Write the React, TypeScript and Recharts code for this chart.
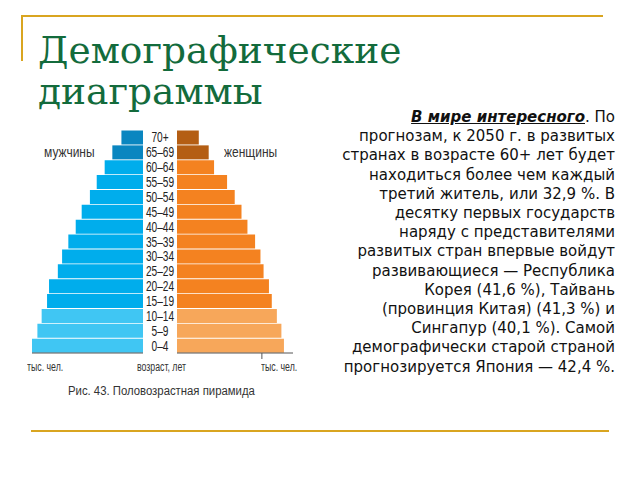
import React from "react";
import { BarChart, Bar, XAxis, YAxis, Cell } from "recharts";

// age groups, oldest on top
const ageGroups = [
  "70+", "65–69", "60–64", "55–59", "50–54", "45–49", "40–44", "35–39",
  "30–34", "25–29", "20–24", "15–19", "10–14", "5–9", "0–4",
];
// тыс. чел.
const male = [76, 108, 135, 163, 187, 216, 237, 263, 285, 300, 331, 338, 357, 372, 391];
const female = [77, 112, 131, 177, 204, 228, 249, 276, 295, 306, 325, 335, 353, 369, 378];
const femaleTicks = [200, 300];

const data = ageGroups.map((age, i) => ({ age, male: male[i], female: female[i] }));

const maleColor = (i: number) => (i < 2 ? "#0a86c0" : i < 12 ? "#00adec" : "#40c6f3");
const femaleColor = (i: number) => (i < 2 ? "#b45e14" : i < 12 ? "#f48220" : "#f7a75a");

const sans = "'Liberation Sans', Arial, sans-serif";
const gold = "#d9a520";

// condensed look: squeeze the glyphs horizontally
const AgeTick = (props: any) => (
  <text
    transform={`translate(17,${props.y}) scale(0.7,1)`}
    dy={5}
    textAnchor="middle"
    fontSize={14.5}
    fontFamily={sans}
    fill="#222"
  >
    {props.payload.value}
  </text>
);

const label = (text: string, left: number, top: number, size: number, sx: number) => (
  <div
    style={{
      position: "absolute", left, top, fontFamily: sans, fontSize: size, color: "#333",
      whiteSpace: "nowrap", transform: `scaleX(${sx})`, transformOrigin: "0 0",
    }}
  >
    {text}
  </div>
);

export default function App() {
  return (
    <div style={{ position: "fixed", left: 0, top: 0, width: 640, height: 480, background: "#fff", overflow: "hidden" }}>
      {/* slide frame */}
      <div style={{ position: "absolute", left: 22, top: 15, width: 581, height: 2, background: gold }} />
      <div style={{ position: "absolute", left: 21, top: 15, width: 2, height: 46, background: gold }} />
      <div style={{ position: "absolute", left: 31, top: 430, width: 578, height: 2, background: gold }} />

      <div
        style={{
          position: "absolute", left: 38, top: 30, fontFamily: "'DejaVu Serif', serif",
          fontSize: 37.5, lineHeight: "40.5px", color: "#136b3c", whiteSpace: "nowrap",
        }}
      >
        Демографические<br />диаграммы
      </div>

      {/* male side */}
      <div style={{ position: "absolute", left: 32, top: 130 }}>
        <BarChart layout="vertical" width={111} height={233} data={data} margin={{ top: 0, right: 0, bottom: 0, left: 0 }} barCategoryGap={0.5}>
          <XAxis type="number" domain={[0, 391]} reversed height={10} tick={false} tickLine={false} axisLine={{ stroke: "#555" }} />
          <YAxis type="category" dataKey="age" hide />
          <Bar dataKey="male" isAnimationActive={false}>
            {data.map((d, i) => <Cell key={d.age} fill={maleColor(i)} />)}
          </Bar>
        </BarChart>
      </div>

      {/* female side with the age labels */}
      <div style={{ position: "absolute", left: 143, top: 130 }}>
        <BarChart layout="vertical" width={150} height={233} data={data} margin={{ top: 0, right: 0, bottom: 0, left: 0 }} barCategoryGap={0.5}>
          <XAxis
            type="number" domain={[0, 410]} ticks={femaleTicks} height={10} tickSize={6}
            tick={() => <g />} tickLine={{ stroke: "#555" }} axisLine={{ stroke: "#555" }}
          />
          <YAxis type="category" dataKey="age" width={34} axisLine={false} tickLine={false} tick={<AgeTick />} interval={0} />
          <Bar dataKey="female" isAnimationActive={false}>
            {data.map((d, i) => <Cell key={d.age} fill={femaleColor(i)} />)}
          </Bar>
        </BarChart>
      </div>

      {label("мужчины", 44, 143, 15, 0.8)}
      {label("женщины", 224, 143, 15, 0.8)}
      {label("тыс. чел.", 27, 360, 12.5, 0.7)}
      {label("возраст, лет", 137, 360, 12.5, 0.7)}
      {label("тыс. чел.", 261, 360, 12.5, 0.7)}
      {label("Рис. 43. Половозрастная пирамида", 68, 384, 12, 0.945)}

      {/* side note */}
      <div
        style={{
          position: "absolute", right: 25, top: 108, textAlign: "right", fontFamily: "'DejaVu Sans', sans-serif",
          fontSize: 15, lineHeight: "19.2px", color: "#111", whiteSpace: "nowrap",
        }}
      >
        <b><i><u>В мире интересного</u></i></b>. По<br />
        прогнозам, к 2050 г. в развитых<br />
        странах в возрасте 60+ лет будет<br />
        находиться более чем каждый<br />
        третий житель, или 32,9 %. В<br />
        десятку первых государств<br />
        наряду с представителями<br />
        развитых стран впервые войдут<br />
        развивающиеся — Республика<br />
        Корея (41,6 %), Тайвань<br />
        (провинция Китая) (41,3 %) и<br />
        Сингапур (40,1 %). Самой<br />
        демографически старой страной<br />
        прогнозируется Япония — 42,4 %.
      </div>
    </div>
  );
}
